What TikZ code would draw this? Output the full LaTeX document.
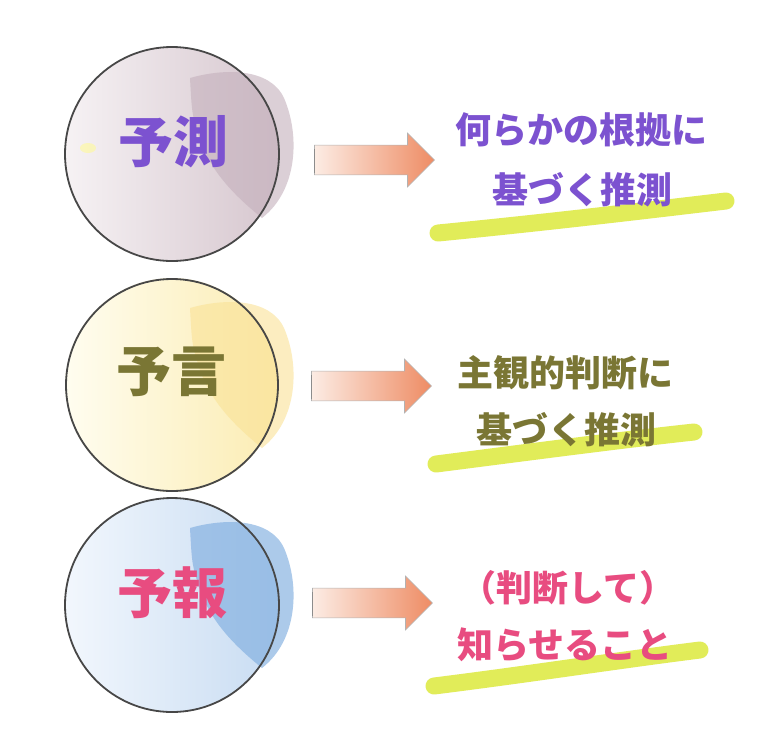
\documentclass[tikz,border=0pt]{standalone}
\usepackage{fontspec}
\newfontfamily\jp{Noto Sans CJK JP}
\usetikzlibrary{shapes.arrows}

\definecolor{yosokuText}{RGB}{124,82,208}
\definecolor{yogenText}{RGB}{122,118,52}
\definecolor{yohouText}{RGB}{232,76,128}
\definecolor{markerGreen}{RGB}{222,234,72}
\definecolor{arrowLight}{RGB}{252,236,228}
\definecolor{arrowDark}{RGB}{238,140,100}

\begin{document}
\begin{tikzpicture}[x=1pt, y=-1pt,
	ball/.style={circle, minimum size=214pt, inner sep=0pt},
	ring/.style={draw=black!72, line width=1.8pt},
	big/.style={font=\jp\bfseries\fontsize{55}{55}\selectfont},
	desc/.style={font=\jp\bfseries\fontsize{36}{40}\selectfont},
	blockarrow/.style={single arrow, minimum height=120pt, minimum width=54pt, inner xsep=0pt, inner ysep=14.5pt,
		single arrow head extend=12pt, draw=black!30, line width=.6pt, left color=arrowLight, right color=arrowDark},
	tick/.style={draw=black!45, line width=.8pt},
	marker/.style={draw=markerGreen, line width=17pt, line cap=round, opacity=.9}]
	\fill[white] (0,0) rectangle (759,753);
	% 予測
	\node[ball, left color={rgb,255:red,246;green,242;blue,244}, right color={rgb,255:red,214;green,198;blue,206}] (ball1) at (172,154) {};
	\fill[color={rgb,255:red,196;green,176;blue,188}, opacity=.6] (190,78) .. controls (225,68) and (270,68) .. (284,98)
		.. controls (300,135) and (298,190) .. (262,218) .. controls (240,200) and (212,175) .. (200,140) .. controls (192,115) .. cycle;
	\fill[yellow!40, opacity=.6] (88,148) ellipse (8 and 5);
	\draw[ring] (ball1.center) circle[radius=107];
	\node[big, text=yosokuText] (label1) at (173,142) {予測};
	\node[blockarrow] (arrow1) at (367,160) {};
	\draw[tick] ([yshift=2pt]arrow1.before tail) -- ([yshift=-4pt]arrow1.after tail);
	\draw[marker] (438,233) .. controls (550,222) and (650,210) .. (726,201);
	\node[desc, text=yosokuText] (text1a) at (581,130) {何らかの根拠に};
	\node[desc, text=yosokuText] (text1b) at (582,190) {基づく推測};
	% 予言
	\node[ball, left color={rgb,255:red,255;green,253;blue,240}, right color={rgb,255:red,251;green,236;blue,178}] (ball2) at (172,385) {};
	\fill[color={rgb,255:red,250;green,226;blue,150}, opacity=.6] (190,308) .. controls (225,298) and (270,298) .. (284,328)
		.. controls (300,365) and (298,420) .. (262,448) .. controls (240,430) and (212,405) .. (200,370) .. controls (192,345) .. cycle;
	\draw[ring] (ball2.center) circle[radius=106];
	\node[big, text=yogenText] (label2) at (171,372) {予言};
	\node[blockarrow] (arrow2) at (364,386) {};
	\draw[tick] ([yshift=2pt]arrow2.before tail) -- ([yshift=-4pt]arrow2.after tail);
	\draw[marker] (436,464) .. controls (530,452) and (620,440) .. (694,432);
	\node[desc, text=yogenText] (text2a) at (565,373) {主観的判断に};
	\node[desc, text=yogenText] (text2b) at (566,430) {基づく推測};
	% 予報
	\node[ball, left color={rgb,255:red,242;green,247;blue,253}, right color={rgb,255:red,200;green,220;blue,242}] (ball3) at (172,605) {};
	\fill[color={rgb,255:red,128;green,174;blue,224}, opacity=.65] (190,528) .. controls (225,518) and (270,518) .. (284,548)
		.. controls (300,585) and (298,640) .. (262,668) .. controls (240,650) and (212,625) .. (200,590) .. controls (192,565) .. cycle;
	\draw[ring] (ball3.center) circle[radius=107];
	\node[big, text=yohouText] (label3) at (172,593) {予報};
	\node[blockarrow] (arrow3) at (365,603) {};
	\draw[tick] ([yshift=2pt]arrow3.before tail) -- ([yshift=-4pt]arrow3.after tail);
	\draw[marker] (434,686) .. controls (530,674) and (620,660) .. (700,650);
	\node[desc, text=yohouText] (text3a) at (568,588) {（判断して）};
	\node[desc, text=yohouText] (text3b) at (565,645) {知らせること};
\end{tikzpicture}
\end{document}
